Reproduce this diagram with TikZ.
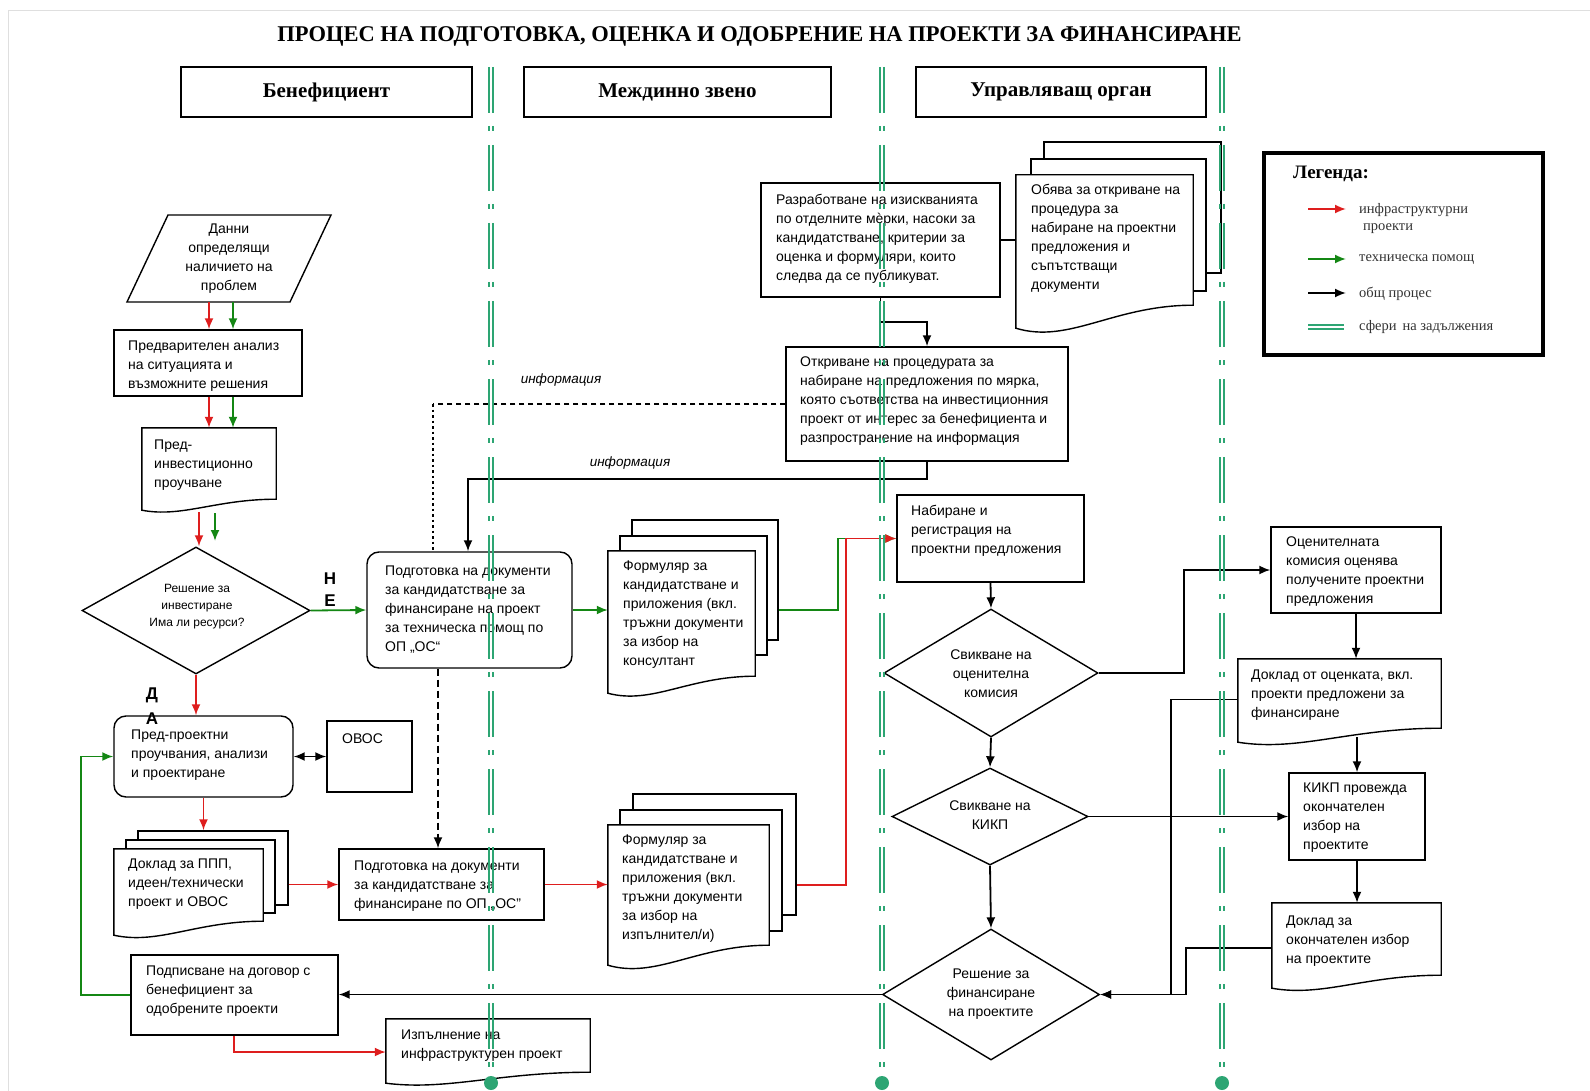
\documentclass[tikz,border=0pt]{standalone}
\usepackage{fontspec}
\setmainfont{Liberation Sans}
\newfontfamily\serifb{Liberation Serif}
\usetikzlibrary{arrows.meta,shapes.geometric,calc}
\definecolor{lnred}{RGB}{222,30,30}
\definecolor{lngreen}{RGB}{20,135,20}
\definecolor{divg}{RGB}{45,165,115}
\tikzset{
 box/.style={draw, line width=1.4pt, inner sep=0pt, fill=white},
 rbox/.style={box, rounded corners=12pt},
 backpage/.style={draw, line width=1.4pt, inner sep=0pt, fill=white},
 docarea/.style={inner sep=0pt},
 dia/.style={draw, diamond, line width=1.4pt, inner sep=0pt, fill=white},
 txt/.style={align=left, inner sep=0pt, font=\fontsize{14}{19}\selectfont, anchor=west},
 ctxt/.style={align=center, inner sep=0pt, font=\fontsize{14}{19}\selectfont},
 hdr/.style={draw, line width=1.5pt, inner sep=0pt, font=\serifb\bfseries\fontsize{21}{25}\selectfont},
 arr/.style={line width=1.8pt, -{Latex[length=11pt,width=9pt]}},
 blk/.style={arr, black},
 rd/.style={arr, lnred},
 gr/.style={arr, lngreen},
 plainln/.style={line width=1.6pt},
 yn/.style={font=\bfseries\fontsize{17}{20}\selectfont, inner sep=0pt},
 info/.style={font=\itshape\fontsize{13.5}{16}\selectfont, inner sep=0pt},
 legtxt/.style={font=\serifb\fontsize{14.5}{17}\selectfont, text=black!80, align=left, anchor=west, inner sep=0pt},
 divln/.style={divg, line width=1.6pt, dash pattern=on 46pt off 13pt on 5pt off 14pt},
}
\newcommand\wavedoc[2]{%
 \draw[line width=1.4pt, fill=white] (#1.north west) -- (#1.north east) -- (#1.south east)
  .. controls ($(#1.south east)!0.45!(#1.south west)$) and ($(#1.south west)!0.3!(#1.south east)+(0,1.7*#2)$) .. ($(#1.south west)+(0,#2)$) -- cycle;}
\begin{document}
\begin{tikzpicture}[x=1pt,y=-1pt]
\useasboundingbox (0,0) rectangle (1590,1091);
\draw[gray!25, line width=1pt] (8,1091) -- (8,11) -- (1590,11);

% title and headers
\node[font=\serifb\bfseries\fontsize{22.5}{26}\selectfont, inner sep=0pt] (title) at (759.5,36) {ПРОЦЕС НА ПОДГОТОВКА, ОЦЕНКА И ОДОБРЕНИЕ НА ПРОЕКТИ ЗА ФИНАНСИРАНЕ};
\node[hdr, minimum width=291, minimum height=50] (h1) at (326.5,92) {Бенефициент};
\node[hdr, minimum width=307, minimum height=50] (h2) at (677.5,92) {Междинно звено};
\node[hdr, minimum width=290, minimum height=50] (h3) at (1061,92) {Управляващ орган};

% legend
\node[draw, line width=3.5pt, minimum width=279, minimum height=202, inner sep=0pt] (leg) at (1403.5,254) {};
\node[font=\serifb\bfseries\fontsize{19}{22}\selectfont, anchor=west, inner sep=0pt] (legt) at (1293,174) {Легенда:};
\coordinate (la1) at (1308,209); \coordinate (lb1) at (1346,209);
\coordinate (la2) at (1308,259); \coordinate (lb2) at (1346,259);
\coordinate (la3) at (1308,293); \coordinate (lb3) at (1346,293);
\coordinate (la4) at (1308,327); \coordinate (lb4) at (1344,327);
\draw[rd] (la1) -- (lb1);
\draw[gr] (la2) -- (lb2);
\draw[blk] (la3) -- (lb3);
\draw[divg, line width=1.6pt] ($(la4)+(0,-2.2)$) -- ($(lb4)+(0,-2.2)$);
\draw[divg, line width=1.6pt] ($(la4)+(0,2.2)$) -- ($(lb4)+(0,2.2)$);
\node[legtxt] (lt1) at (1359,218.5) {инфраструктурни\\\hspace{4pt}проекти};
\node[legtxt] (lt2) at (1359,260) {техническа помощ};
\node[legtxt] (lt3) at (1359,294) {общ процес};
\node[legtxt] (lt4) at (1359,327) {сфери\hspace{6pt}на задължения};

% ---------- Beneficiary column ----------
\draw[line width=1.4pt, fill=white] (168,215) -- (331,215) -- (290,302) -- (127,302) -- cycle;
\node[ctxt, minimum width=160, minimum height=87] (p1) at (229,258.5) {Данни\\определящи\\наличието на\\проблем};
\node[box, minimum width=188, minimum height=66] (b2) at (208,363) {};
\node[docarea, minimum width=134, minimum height=71] (d3) at (209,463.5) {};
\wavedoc{d3}{11}
\node[dia, minimum width=228, minimum height=127] (d4) at (196,610.5) {};
\node[rbox, minimum width=179, minimum height=81] (b5) at (203.5,756.5) {};
\node[box, minimum width=85, minimum height=71] (b6) at (369.5,756.5) {};
\node[backpage, minimum width=150, minimum height=74] (d7c) at (213,868) {};
\node[backpage, minimum width=149, minimum height=73] (d7b) at (200.5,876.5) {};
\node[docarea, minimum width=149, minimum height=72] (d7) at (188.5,885) {};
\wavedoc{d7}{14}
\node[box, minimum width=207, minimum height=80] (b9) at (234.5,995) {};
\node[docarea, minimum width=204, minimum height=53] (d10) at (488,1045.5) {};
\wavedoc{d10}{11}

% ---------- Intermediate body column ----------
\node[rbox, minimum width=205, minimum height=116] (b11) at (469.5,610) {};
\node[backpage, minimum width=146, minimum height=120] (d12c) at (705,580) {};
\node[backpage, minimum width=147, minimum height=119] (d12b) at (693.5,595.5) {};
\node[docarea, minimum width=147, minimum height=125] (d12) at (681.5,613.5) {};
\wavedoc{d12}{17}
\node[box, minimum width=205, minimum height=71] (b8) at (441.5,884.5) {};
\node[backpage, minimum width=163, minimum height=121] (d13c) at (714.5,854.5) {};
\node[backpage, minimum width=162, minimum height=121] (d13b) at (701,870.5) {};
\node[docarea, minimum width=161, minimum height=120] (d13) at (688.5,885) {};
\wavedoc{d13}{20}

% ---------- Managing authority column ----------
\node[box, minimum width=239, minimum height=114] (b14) at (880.5,240) {};
\node[backpage, minimum width=177, minimum height=131] (d15c) at (1132.5,207.5) {};
\node[backpage, minimum width=175, minimum height=132] (d15b) at (1118.5,225) {};
\node[docarea, minimum width=177, minimum height=130] (d15) at (1104.5,240) {};
\wavedoc{d15}{23}
\node[box, minimum width=282, minimum height=114] (b16) at (927,404) {};
\node[box, minimum width=187, minimum height=87] (b17) at (990.5,538.5) {};
\node[dia, minimum width=214, minimum height=128] (d18) at (991,673) {};
\node[dia, minimum width=196, minimum height=97] (d20) at (990,816.5) {};
\node[dia, minimum width=217, minimum height=131] (d21) at (991,994.5) {};
\node[box, minimum width=170, minimum height=86] (b19) at (1356,570) {};
\node[docarea, minimum width=203, minimum height=69] (d22) at (1339.5,693.5) {};
\wavedoc{d22}{14}
\node[box, minimum width=136, minimum height=87] (b23) at (1357,816.5) {};
\node[docarea, minimum width=169, minimum height=72] (d24) at (1356.5,939) {};
\wavedoc{d24}{13}

% ---------- texts ----------
\node[txt] (t2) at (128,366) {Предварителен анализ\\на ситуацията и\\възможните решения};
\node[txt] (t3) at (154,465) {Пред-\\инвестиционно\\проучване};
\node[ctxt, font=\fontsize{12}{17}\selectfont] (t4) at (197,607) {Решение за\\инвестиране\\Има ли ресурси?};
\node[txt] (t5) at (131,755) {Пред-проектни\\проучвания, анализи\\и проектиране};
\node[txt] (t6) at (342,739) {ОВОС};
\node[txt] (t7) at (128,884) {Доклад за ППП,\\идеен/технически\\проект и ОВОС};
\node[txt] (t8) at (354,886) {Подготовка на документи\\за кандидатстване за\\финансиране по ОП „ОС”};
\node[txt] (t9) at (146,991) {Подписване на договор с\\бенефициент за\\одобрените проекти};
\node[txt] (t10) at (401,1046) {Изпълнение на\\инфраструктурен проект};
\node[txt] (t11) at (385,610) {Подготовка на документи\\за кандидатстване за\\финансиране на проект\\за техническа помощ по\\ОП „ОС“};
\node[txt] (t12) at (623,614.5) {Формуляр за\\кандидатстване и\\приложения (вкл.\\тръжни документи\\за избор на\\консултант};
\node[txt] (t13) at (622,888.5) {Формуляр за\\кандидатстване и\\приложения (вкл.\\тръжни документи\\за избор на\\изпълнител/и)};
\node[txt] (t14) at (776,239) {Разработване на изискванията\\по отделните мѐрки, насоки за\\кандидатстване, критерии за\\оценка и формуляри, които\\следва да се публикуват.};
\node[txt] (t15) at (1031,238) {Обява за откриване на\\процедура за\\набиране на проектни\\предложения и\\съпътстващи\\документи};
\node[txt] (t16) at (800,401) {Откриване на процедурата за\\набиране на предложения по мярка,\\която съответства на инвестиционния\\проект от интерес за бенефициента и\\разпространение на информация};
\node[txt] (t17) at (911,531) {Набиране и\\регистрация на\\проектни предложения};
\node[ctxt] (t18) at (991,674) {Свикване на\\оценителна\\комисия};
\node[txt] (t19) at (1286,572) {Оценителната\\комисия оценява\\получените проектни\\предложения};
\node[ctxt] (t20) at (990,815) {Свикване на\\КИКП};
\node[ctxt] (t21) at (991,994) {Решение за\\финансиране\\на проектите};
\node[txt] (t22) at (1251,695) {Доклад от оценката, вкл.\\проекти предложени за\\финансиране};
\node[txt] (t23) at (1303,818) {КИКП провежда\\окончателен\\избор на\\проектите};
\node[txt] (t24) at (1286,941) {Доклад за\\окончателен избор\\на проектите};

\node[yn] (yN) at (330,579) {Н};
\node[yn] (yE) at (330,601) {Е};
\node[yn] (yD) at (152,695) {Д};
\node[yn] (yA) at (152,719) {А};
\node[info] (inf1) at (561,380) {информация};
\node[info] (inf2) at (630,463) {информация};

% ---------- helper coordinates ----------
\coordinate (xr1) at (209,0); \coordinate (xg1) at (233,0);
\coordinate (d3r) at (199,512); \coordinate (d3g) at (215,513); \coordinate (d4g) at (215,541);
\coordinate (xdot) at (438,0);
\coordinate (dcorner) at (433,404);
\coordinate (ibend) at (468,479);
\coordinate (y322) at (0,322);
\coordinate (gbend) at (838,610);
\coordinate (rbend) at (846,885);
\coordinate (x1184) at (1184,0);
\coordinate (x1171) at (1171,0);
\coordinate (x1186) at (1186,0);
\coordinate (w22) at (1357,737);
\coordinate (x81) at (81,0);
\coordinate (x234) at (234,0);
\coordinate (y1052) at (0,1052);

% ---------- connectors ----------
\draw[rd] (p1.south -| xr1) -- (b2.north -| xr1);
\draw[gr] (p1.south -| xg1) -- (b2.north -| xg1);
\draw[rd] (b2.south -| xr1) -- (d3.north -| xr1);
\draw[gr] (b2.south -| xg1) -- (d3.north -| xg1);
\draw[rd] (d3r) -- (d3r |- d4.north);
\draw[gr] (d3g) -- (d4g);
\draw[gr] (d4.east) -- (b11.west);
\draw[rd] (d4.south) -- (d4.south |- b5.north);
\draw[line width=1.8pt, {Latex[length=11pt,width=9pt]}-{Latex[length=11pt,width=9pt]}] (b5.east) -- (b6.west);
\draw[rd] (b5.south) -- (b5.south |- d7c.north);
\draw[rd] (d7c.east |- b8.west) -- (b8.west);
\draw[rd] (b8.east) -- (b8.east -| d13.west);
\draw[gr] (b11.east) -- (b11.east -| d12.west);
\draw[gr] (d12c.east |- gbend) -- (gbend) |- (b17.west);
\draw[rd] (d13c.east |- rbend) -- (rbend) |- (b17.west);
\draw[blk, dash pattern=on 7pt off 4pt] (b11.south -| xdot) -- (b8.north -| xdot);
\draw[line width=1.4pt, dash pattern=on 5pt off 4pt] (b16.west) -- (dcorner);
\draw[line width=2.4pt, dash pattern=on 2.5pt off 3pt] (dcorner) -- (dcorner |- b11.north);
\draw[blk] (b16.south) |- (ibend) -- (ibend |- b11.north);
\draw[blk] (b14.south) |- (b16.north |- y322) -- (b16.north);
\draw[plainln] (b14.east) -- (d15.west);
\draw[blk] (b17.south) -- (d18.north);
\draw[blk] (d18.south) -- (d20.north);
\draw[blk] (d20.south) -- (d21.north);
\draw[blk] (d18.east) -- (d18.east -| x1184) |- (b19.west);
\draw[blk] (b19.south) -- (b19.south |- d22.north);
\draw[blk] (w22) -- (w22 |- b23.north);
\draw[blk] (d20.east) -- (d20.east -| b23.west);
\draw[blk] (b23.south) -- (b23.south |- d24.north);
\draw[blk] ($(d22.west)+(0,6)$) -| (x1171 |- d21.east) -- (d21.east);
\draw[blk] ($(d24.west)+(0,9)$) -| (x1186 |- d21.east) -- (d21.east);
\draw[blk] (d21.west) -- (d21.west -| b9.east);
\draw[gr] (b9.west) -- (b9.west -| x81) |- (b5.west);
\draw[rd] (b9.south -| x234) |- (d10.west |- y1052);

% ---------- lane dividers ----------
\foreach \dx in {491,882,1222}{
  \draw[divln] (\dx-2.2,67) -- (\dx-2.2,1080);
  \draw[divln] (\dx+2.2,67) -- (\dx+2.2,1080);
  \fill[divg] (\dx,1083) circle[radius=7pt];
}
\end{tikzpicture}
\end{document}
